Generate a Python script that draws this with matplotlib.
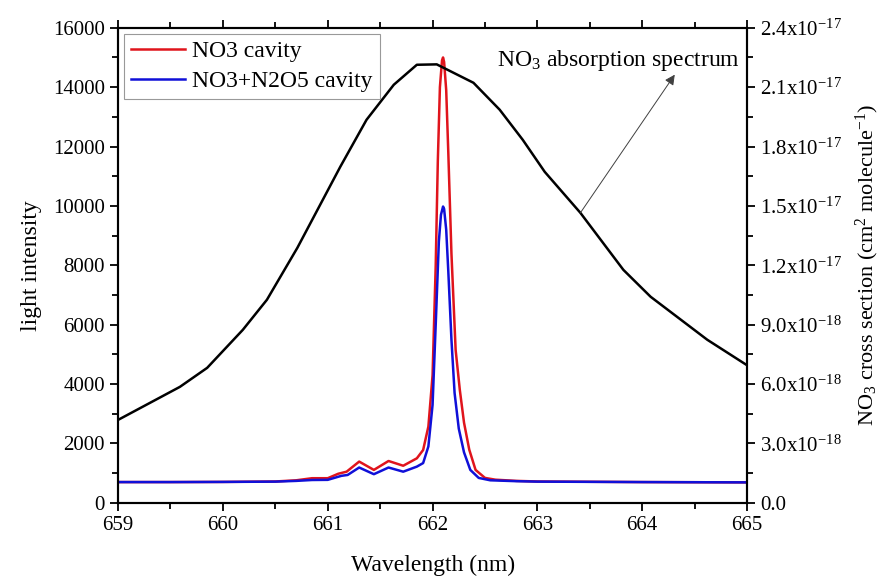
import matplotlib
matplotlib.use("Agg")
import matplotlib.pyplot as plt
from matplotlib.ticker import MultipleLocator, FuncFormatter

plt.rcParams['font.family'] = ['Liberation Serif', 'DejaVu Serif']
plt.rcParams['mathtext.fontset'] = 'custom'
plt.rcParams['mathtext.rm'] = 'Liberation Serif'
plt.rcParams['mathtext.it'] = 'Liberation Serif:italic'

# NO3 absorption cross section (right axis)
abs_wl = [659.0, 659.59, 659.85, 660.19, 660.42, 660.71, 661.12, 661.37, 661.63,
          661.85, 662.04, 662.39, 662.64, 662.86, 663.07, 663.41, 663.82, 664.08,
          664.62, 665.0]
abs_sigma = [4.19e-18, 5.86e-18, 6.82e-18, 8.74e-18, 1.026e-17, 1.288e-17, 1.698e-17,
             1.935e-17, 2.112e-17, 2.213e-17, 2.215e-17, 2.122e-17, 1.986e-17,
             1.834e-17, 1.672e-17, 1.465e-17, 1.177e-17, 1.041e-17, 8.24e-18, 6.95e-18]

# cavity light intensity (left axis)
red_wl = [659.0, 659.5, 660.0, 660.5, 660.7, 660.85, 661.0, 661.1, 661.18, 661.3,
          661.44, 661.58, 661.72, 661.85, 661.91, 661.96, 662.0, 662.03, 662.05,
          662.07, 662.09, 662.1, 662.11, 662.13, 662.15, 662.18, 662.22, 662.26,
          662.3, 662.35, 662.41, 662.5, 662.6, 662.8, 663.0, 664.0, 665.0]
red_int = [700, 700, 705, 720, 760, 830, 830, 980, 1050, 1390,
           1110, 1410, 1250, 1500, 1780, 2570, 4300, 8000, 11500,
           14000, 14900, 15000, 14850, 13900, 11800, 8400, 5150, 3800,
           2700, 1790, 1110, 840, 780, 740, 720, 700, 690]

blue_wl = [659.0, 659.5, 660.0, 660.5, 660.7, 660.85, 661.0, 661.13, 661.19, 661.3,
           661.44, 661.58, 661.72, 661.85, 661.91, 661.96, 662.0, 662.03, 662.06,
           662.08, 662.1, 662.11, 662.13, 662.15, 662.18, 662.21, 662.25, 662.3,
           662.36, 662.44, 662.55, 662.8, 663.0, 664.0, 665.0]
blue_int = [700, 700, 705, 715, 740, 770, 775, 910, 940, 1190,
            965, 1190, 1050, 1220, 1340, 1900, 3300, 6000, 8800,
            9700, 9980, 9900, 9200, 7800, 5500, 3700, 2500, 1700,
            1110, 840, 760, 730, 715, 700, 690]

fig = plt.figure(figsize=(8.81, 5.78), dpi=100)
ax = fig.add_axes([0.134, 0.130, 0.714, 0.822])
ax2 = ax.twinx()

l1, = ax.plot(red_wl, red_int, color='#e0141c', lw=1.8, label='NO3 cavity')
l2, = ax.plot(blue_wl, blue_int, color='#1010d8', lw=1.8, label='NO3+N2O5 cavity')
ax2.plot(abs_wl, abs_sigma, color='black', lw=1.8)

ax.set_xlim(659, 665)
ax.set_ylim(0, 16000)
ax2.set_ylim(0, 2.4e-17)

ax.xaxis.set_major_locator(MultipleLocator(1))
ax.xaxis.set_minor_locator(MultipleLocator(0.5))
ax.yaxis.set_major_locator(MultipleLocator(2000))
ax.yaxis.set_minor_locator(MultipleLocator(1000))
ax2.yaxis.set_major_locator(MultipleLocator(3e-18))
ax2.yaxis.set_minor_locator(MultipleLocator(1.5e-18))


def sci_fmt(v, pos):
    if abs(v) < 1e-25:
        return '0.0'
    exp = int(f'{v:e}'.split('e')[1])
    mant = v / 10 ** exp
    return f'{mant:.1f}x10$^{{{exp}}}$'


ax2.yaxis.set_major_formatter(FuncFormatter(sci_fmt))

ax.tick_params(which='both', direction='out', top=True, width=1.3, labelsize=15)
ax.tick_params(which='major', length=6)
ax.tick_params(which='minor', length=4)
ax2.tick_params(which='both', direction='out', width=1.3, labelsize=15)
ax2.tick_params(which='major', length=6)
ax2.tick_params(which='minor', length=4)
for a in (ax, ax2):
    for s in a.spines.values():
        s.set_linewidth(1.5)

ax.set_xlabel('Wavelength (nm)', fontsize=17, labelpad=14)
ax.set_ylabel('light intensity', fontsize=17, labelpad=8)
ax2.set_ylabel('NO$_3$ cross section (cm$^2$ molecule$^{-1}$)', fontsize=16, labelpad=8)

leg = ax2.legend(handles=[l1, l2], loc='upper left', fontsize=17, frameon=True,
                 fancybox=False, edgecolor='#808080', handlelength=2.3,
                 borderpad=0.3, labelspacing=0.35, handletextpad=0.3,
                 borderaxespad=0.25)
leg.get_frame().set_linewidth(0.8)

ax2.annotate('', xy=(664.31, 2.163e-17), xytext=(663.41, 1.465e-17),
             arrowprops=dict(arrowstyle='-|>', color='#404040', lw=0.7,
                             mutation_scale=15, shrinkA=0, shrinkB=0))
ax2.text(664.93, 2.235e-17, 'NO$_3$ absorption spectrum', fontsize=17,
         ha='right', va='center')

fig.savefig('out.png', dpi=100)
